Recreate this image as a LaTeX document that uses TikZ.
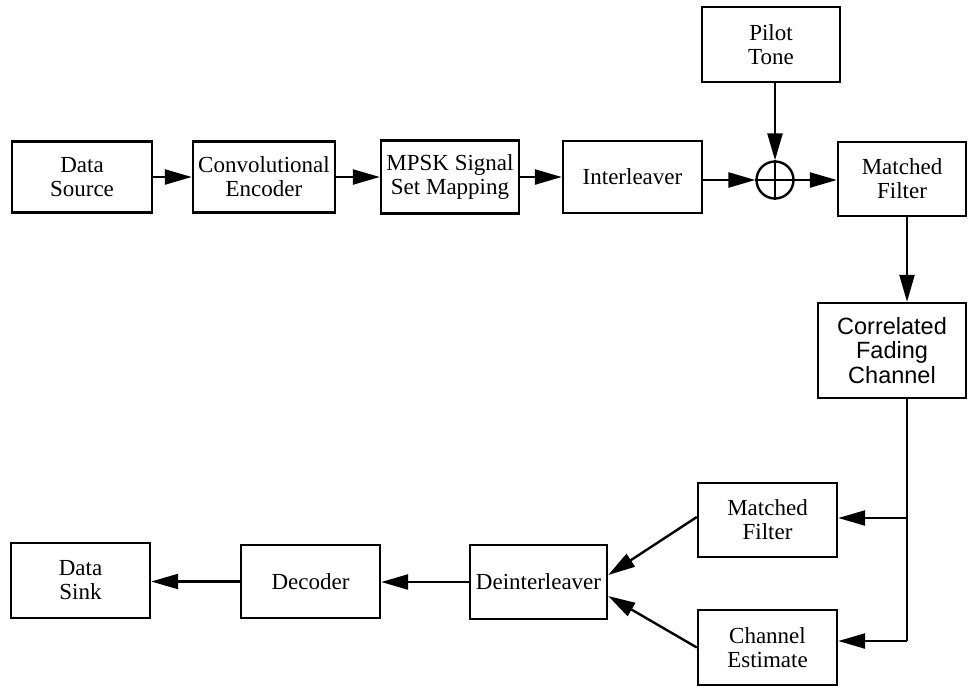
\documentclass[tikz,border=0pt]{standalone}
\usepackage{fontspec}
\setmainfont{Liberation Serif}
\setsansfont{Liberation Sans}
\usetikzlibrary{arrows.meta}
\begin{document}
\begin{tikzpicture}[x=1pt,y=-1pt,
  blk/.style={draw,line width=2.4pt,inner sep=0pt,align=center,
    font=\fontsize{23}{24}\selectfont},
  arr/.style={line width=2.4pt,-{Triangle[length=27pt,width=15pt]}},
  ln/.style={line width=2.4pt}]
\useasboundingbox (0,0) rectangle (968,686);
% top row
\node[blk,minimum width=140pt,minimum height=71pt] (src) at (82,177) {Data\\Source};
\node[blk,minimum width=142pt,minimum height=71pt] (enc) at (264,177) {Convolutional\\Encoder};
\node[blk,minimum width=138pt,minimum height=73pt] (map) at (450,177) {MPSK Signal\\Set Mapping};
\node[blk,minimum width=139pt,minimum height=72pt] (intl) at (632.5,177) {Interleaver};
\node[draw,circle,line width=2.4pt,minimum size=37pt,inner sep=0pt] (add) at (775,180) {};
\draw[ln] (add.north) -- (add.south);
\draw[ln] (add.west) -- (add.east);
\node[blk,minimum width=138pt,minimum height=75pt] (pilot) at (771,44.5) {Pilot\\Tone};
\node[blk,minimum width=128pt,minimum height=74pt] (mf1) at (902,179) {Matched\\Filter};
% right column
\node[blk,minimum width=148pt,minimum height=95pt,font=\sffamily\fontsize{23.5}{24.5}\selectfont] (chan) at (892,350.5) {Correlated\\Fading\\Channel};
\node[blk,minimum width=139pt,minimum height=74pt] (mf2) at (767.5,520) {Matched\\Filter};
\node[blk,minimum width=139pt,minimum height=75pt] (ce) at (767.5,647.5) {Channel\\Estimate};
% bottom row
\node[blk,minimum width=137pt,minimum height=74pt] (deint) at (538.5,582) {Deinterleaver};
\node[blk,minimum width=139pt,minimum height=73pt] (dec) at (310.5,581.5) {Decoder};
\node[blk,minimum width=139pt,minimum height=75pt] (sink) at (80.5,580.5) {Data\\Sink};
% junctions
\coordinate (j0) at (907,216);
\coordinate (j1) at (907,518);
\coordinate (j2) at (907,641);
% connectors
\draw[arr] (src.east) -- (enc.west);
\draw[arr] (enc.east) -- (map.west);
\draw[arr] (map.east) -- (intl.west);
\draw[arr] (intl.east |- add.west) -- (add.west);
\draw[arr] (add.east) -- (mf1.west |- add.east);
\draw[arr] (pilot.south -| add.north) -- (add.north);
\draw[arr] (j0) -- (j0 |- chan.north);
\draw[ln] (chan.south -| j1) -- (j2);
\draw[arr] (j1) -- (mf2.east |- j1);
\draw[arr] (j2) -- (ce.east |- j2);
\draw[arr] ([yshift=3pt]mf2.west) -- ([yshift=7pt]deint.east);
\draw[arr] (ce.west) -- ([yshift=-14pt]deint.east);
\draw[arr] (deint.west) -- (dec.east |- deint.west);
\draw[arr] (dec.west) -- (sink.east |- dec.west);
\end{tikzpicture}
\end{document}
